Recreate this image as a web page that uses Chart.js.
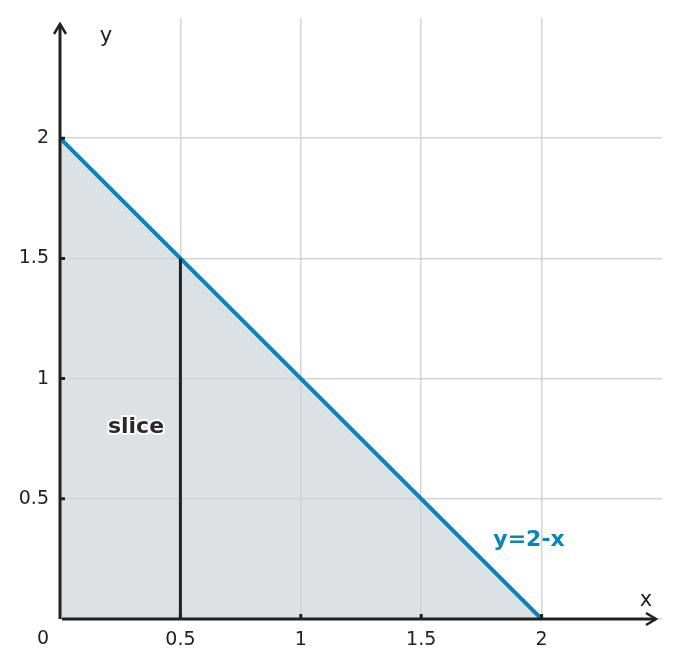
<!DOCTYPE html>
<html>
<head>
<meta charset="utf-8">
<script src="https://cdn.jsdelivr.net/npm/chart.js@4"></script>
<style>
  body { margin: 0; background: #fff; }
  #wrap { width: 680px; height: 668px; }
</style>
</head>
<body>
<div id="wrap"><canvas id="chart"></canvas></div>
<script>
// line y = 2 - x and the vertical slice at x = 0.5
const lineX = [0, 2];
const lineY = [2, 0];
const sliceX = [0.5, 0.5];
const sliceY = [0, 1.5];
const tickValues = [0.5, 1, 1.5, 2];
const axisMax = 2.5;

const blue = '#0a85ba';
const ink = '#222222';
const font = '"DejaVu Sans", sans-serif';

function toPoints(xs, ys){
    return xs.map((x, i) => ({x: x, y: ys[i]}));
}

function arrowHead(ctx, x, y, dir){
    ctx.beginPath();
    if (dir === 'up'){
        ctx.moveTo(x - 6, y + 10);
        ctx.lineTo(x, y);
        ctx.lineTo(x + 6, y + 10);
    } else {
        ctx.moveTo(x - 10, y - 6);
        ctx.lineTo(x, y);
        ctx.lineTo(x - 10, y + 6);
    }
    ctx.stroke();
}

const decorations = {
    id: 'decorations',
    afterDatasetsDraw(chart){
        const ctx = chart.ctx;
        const xs = chart.scales.x, ys = chart.scales.y;
        const x0 = xs.getPixelForValue(0), y0 = ys.getPixelForValue(0);
        ctx.save();
        ctx.strokeStyle = ink;
        ctx.lineWidth = 3;
        ctx.lineCap = 'butt';
        // axes
        ctx.beginPath();
        ctx.moveTo(x0, y0);
        ctx.lineTo(x0, 24);
        ctx.moveTo(x0 + 2, y0);
        ctx.lineTo(656, y0);
        ctx.stroke();
        ctx.lineWidth = 2.5;
        arrowHead(ctx, x0, 24, 'up');
        arrowHead(ctx, 656, y0, 'right');
        // small tick marks
        ctx.lineWidth = 3;
        ctx.beginPath();
        tickValues.forEach(v => {
            const px = xs.getPixelForValue(v);
            ctx.moveTo(px, y0);
            ctx.lineTo(px, y0 - 5);
            const py = ys.getPixelForValue(v);
            ctx.moveTo(x0, py);
            ctx.lineTo(x0 + 5, py);
        });
        ctx.stroke();
        // texts
        ctx.fillStyle = ink;
        ctx.font = '19px ' + font;
        ctx.textAlign = 'center';
        ctx.textBaseline = 'middle';
        ctx.fillText('0', 43, 639);
        ctx.font = '21px ' + font;
        ctx.fillText('x', 646, 601);
        ctx.fillText('y', 106, 37);
        ctx.font = 'bold 22px ' + font;
        ctx.lineJoin = 'round';
        ctx.strokeStyle = '#ffffff';
        ctx.lineWidth = 4;
        ctx.fillStyle = '#2a2a2a';
        ctx.strokeText('slice', 136, 427);
        ctx.fillText('slice', 136, 427);
        ctx.fillStyle = blue;
        ctx.fillText('y=2-x', 529, 540);
        ctx.restore();
    }
};

new Chart(document.getElementById('chart'), {
    type: 'scatter',
    data: {
        datasets: [
            {
                data: toPoints(lineX, lineY),
                showLine: true,
                borderColor: blue,
                borderWidth: 4,
                pointRadius: 0,
                fill: 'origin',
                backgroundColor: 'rgba(206, 212, 216, 0.7)',
                order: 2,
            },
            {
                data: toPoints(sliceX, sliceY),
                showLine: true,
                borderColor: ink,
                borderWidth: 3,
                pointRadius: 0,
                fill: false,
                order: 1,
            },
        ],
    },
    options: {
        responsive: true,
        maintainAspectRatio: false,
        animation: false,
        layout: { padding: { top: 18, right: 18, left: 0, bottom: 0 } },
        plugins: {
            legend: { display: false },
            tooltip: { enabled: false },
        },
        scales: {
            x: {
                type: 'linear',
                min: 0,
                max: axisMax,
                afterFit: (scale) => {
                    scale.height = 49;
                    scale.paddingLeft = 0;
                    scale.paddingRight = 0;
                },
                border: { display: false },
                grid: {
                    drawTicks: false,
                    lineWidth: 1.5,
                    color: (c) => (c.tick && c.tick.value > 0 && c.tick.value < axisMax) ? '#d4d4d4' : 'rgba(0,0,0,0)',
                },
                ticks: {
                    stepSize: 0.5,
                    padding: 10,
                    color: ink,
                    maxRotation: 0,
                    font: { family: font, size: 19 },
                    callback: (v) => tickValues.includes(v) ? String(v) : '',
                },
            },
            y: {
                type: 'linear',
                min: 0,
                max: axisMax,
                afterFit: (scale) => {
                    scale.width = 60;
                    scale.paddingTop = 0;
                    scale.paddingBottom = 0;
                },
                border: { display: false },
                grid: {
                    drawTicks: false,
                    lineWidth: 1.5,
                    color: (c) => (c.tick && c.tick.value < axisMax) ? '#d4d4d4' : 'rgba(0,0,0,0)',
                },
                ticks: {
                    stepSize: 0.5,
                    padding: 11,
                    color: ink,
                    font: { family: font, size: 19 },
                    callback: (v) => tickValues.includes(v) ? String(v) : '',
                },
            },
        },
    },
    plugins: [decorations],
});
</script>
</body>
</html>
